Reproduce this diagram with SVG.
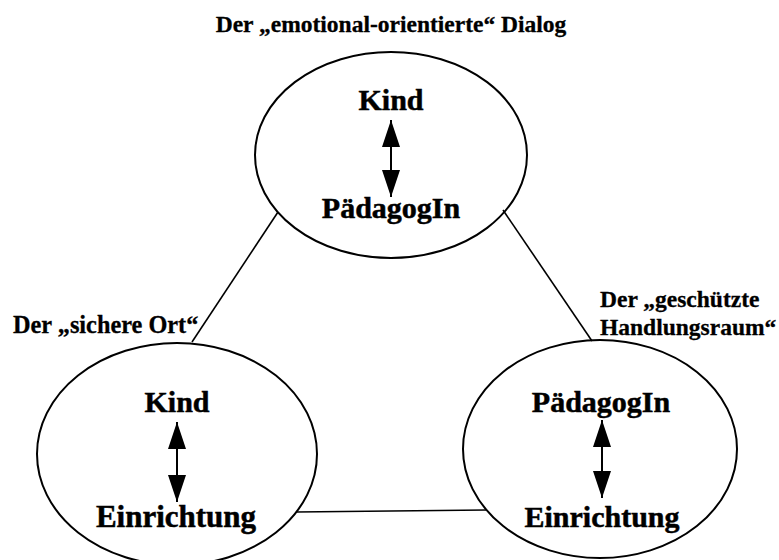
<svg xmlns="http://www.w3.org/2000/svg" width="779" height="560" viewBox="0 0 779 560">
<style>
.bg{fill:#ffffff}
.node{fill:none;stroke:#000;stroke-width:2}
.conn{stroke:#000;stroke-width:1.6;fill:none}
.arr{stroke:#000;stroke-width:2;fill:none}
.big{font-family:"Liberation Serif","Times New Roman",serif;font-weight:bold;font-size:30px;fill:#000;stroke:#000;stroke-width:0.5;text-anchor:middle}
.lbl{font-family:"Liberation Serif","Times New Roman",serif;font-weight:bold;font-size:23.5px;fill:#000;stroke:#000;stroke-width:0.3}
</style>
<defs>
<marker id="ah" viewBox="0 0 27 18" refX="27" refY="9" markerWidth="27" markerHeight="18" markerUnits="userSpaceOnUse" orient="auto-start-reverse">
<path d="M0,0 L27,9 L0,18 Z" fill="#000"/>
</marker>
</defs>
<rect class="bg" x="0" y="0" width="779" height="560"/>
<g id="connectors">
<line class="conn" x1="278" y1="212" x2="192" y2="342"/>
<line class="conn" x1="503" y1="210" x2="592" y2="341"/>
<line class="conn" x1="296" y1="512" x2="486" y2="510"/>
</g>
<g id="title">
<text class="lbl" x="391" y="32" text-anchor="middle">Der „emotional-orientierte“ Dialog</text>
</g>
<g id="node-top">
<ellipse class="node" cx="391" cy="155" rx="136" ry="103"/>
<text class="big" x="391" y="110">Kind</text>
<line class="arr" x1="391" y1="120" x2="391" y2="197" marker-start="url(#ah)" marker-end="url(#ah)"/>
<text class="big" x="391" y="218">PädagogIn</text>
</g>
<g id="node-left">
<ellipse class="node" cx="177" cy="454" rx="140" ry="111"/>
<text class="lbl" x="13" y="333" style="font-size:24.3px">Der „sichere Ort“</text>
<text class="big" x="177" y="412">Kind</text>
<line class="arr" x1="177" y1="422" x2="177" y2="502" marker-start="url(#ah)" marker-end="url(#ah)"/>
<text class="big" x="176" y="527" style="font-size:31px">Einrichtung</text>
</g>
<g id="node-right">
<ellipse class="node" cx="600" cy="449" rx="137" ry="109"/>
<text class="lbl" x="600" y="307">Der „geschützte</text>
<text class="lbl" x="600" y="335">Handlungsraum“</text>
<text class="big" x="601" y="412">PädagogIn</text>
<line class="arr" x1="602" y1="420" x2="602" y2="498" marker-start="url(#ah)" marker-end="url(#ah)"/>
<text class="big" x="602" y="527">Einrichtung</text>
</g>
</svg>
